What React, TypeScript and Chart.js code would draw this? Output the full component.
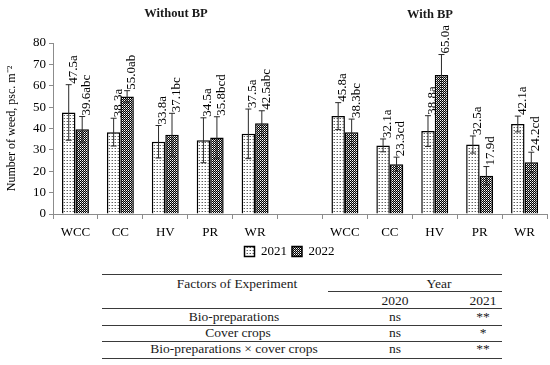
import React, { useEffect, useRef } from 'react';
import { Chart, registerables } from 'chart.js';

Chart.register(...registerables);

const categories = ['WCC', 'CC', 'HV', 'PR', 'WR', '', 'WCC', 'CC', 'HV', 'PR', 'WR'];
const values2021 = [47.5, 38.3, 33.8, 34.5, 37.5, null, 45.8, 32.1, 38.8, 32.5, 42.1];
const values2022 = [39.6, 55.0, 37.1, 35.8, 42.5, null, 38.3, 23.3, 65.0, 17.9, 24.2];
const errors2021 = [13, 6.5, 7.6, 10.5, 11.6, null, 6.3, 3, 7.2, 4, 3.7];
const errors2022 = [6, 2.7, 10, 9.7, 5.8, null, 6.1, 3.3, 9.6, 4.3, 4.7];
const letters2021 = ['a', 'a', 'a', 'a', 'a', '', 'a', 'a', 'a', 'a', 'a'];
const letters2022 = ['abc', 'ab', 'bc', 'bcd', 'abc', '', 'bc', 'cd', 'a', 'd', 'cd'];
const seriesNames = ['2021', '2022'];
const groupTitles = ['Without BP', 'With BP'];
const yMin = 0;
const yMax = 80;
const yStep = 10;
const yTitle = 'Number of weed, psc. m⁻²';

const tableHeader = 'Factors of Experiment';
const tableYearHeader = 'Year';
const tableYears = ['2020', '2021'];
const factors = ['Bio-preparations', 'Cover crops', 'Bio-preparations × cover crops'];
const sig2020 = ['ns', 'ns', 'ns'];
const sig2021 = ['**', '*', '**'];

const FONT = '"Liberation Serif", "Times New Roman", serif';

function makePattern(kind: 'light' | 'dark'): CanvasPattern | string {
  const c = document.createElement('canvas');
  const ctx = c.getContext('2d');
  if (!ctx) return kind === 'light' ? '#ddd' : '#444';
  if (kind === 'light') {
    c.width = 3; c.height = 3;
    ctx.fillStyle = '#ffffff';
    ctx.fillRect(0, 0, 3, 3);
    ctx.fillStyle = '#606060';
    ctx.fillRect(1, 1, 1, 1);
    ctx.fillStyle = '#b8b8b8';
    ctx.fillRect(0, 1, 1, 1);
  } else {
    c.width = 2; c.height = 2;
    ctx.fillStyle = '#000000';
    ctx.fillRect(0, 0, 2, 2);
    ctx.fillStyle = '#ffffff';
    ctx.fillRect(0, 0, 1, 1);
    ctx.fillStyle = '#9a9a9a';
    ctx.fillRect(1, 1, 1, 1);
  }
  return ctx.createPattern(c, 'repeat') as CanvasPattern;
}

const errorLabelPlugin = {
  id: 'errorLabelPlugin',
  afterLayout(chart: any) {
    if (chart.legend) {
      chart.legend.left += 16;
      chart.legend.right += 16;
    }
  },
  afterDatasetsDraw(chart: any) {
    const ctx = chart.ctx;
    const yScale = chart.scales.y;
    const errs = [errors2021, errors2022];
    const vals = [values2021, values2022];
    const lets = [letters2021, letters2022];
    chart.data.datasets.forEach((_ds: any, di: number) => {
      const meta = chart.getDatasetMeta(di);
      meta.data.forEach((el: any, i: number) => {
        const v = vals[di][i];
        const e = errs[di][i];
        if (v == null || e == null) return;
        const x = el.x;
        const yTop = yScale.getPixelForValue(v + e);
        const yBot = yScale.getPixelForValue(v - e);
        ctx.save();
        ctx.strokeStyle = '#2a2a2a';
        ctx.lineWidth = 1;
        ctx.beginPath();
        ctx.moveTo(x, yTop);
        ctx.lineTo(x, yBot);
        ctx.moveTo(x - 3, yTop);
        ctx.lineTo(x + 3, yTop);
        ctx.moveTo(x - 3, yBot);
        ctx.lineTo(x + 3, yBot);
        ctx.stroke();
        ctx.translate(x + 4.5, yTop - 1);
        ctx.rotate(-Math.PI / 2);
        ctx.fillStyle = '#000';
        ctx.font = `13px ${FONT}`;
        ctx.textAlign = 'left';
        ctx.textBaseline = 'middle';
        ctx.fillText(v.toFixed(1) + lets[di][i], 0, 0);
        ctx.restore();
      });
    });
  },
};

function Txt(props: { x: number; y: number; children: React.ReactNode; bold?: boolean; size?: number }) {
  return (
    <div
      style={{
        position: 'absolute',
        left: props.x,
        top: props.y,
        transform: 'translate(-50%, -50%)',
        whiteSpace: 'nowrap',
        lineHeight: 1,
        fontFamily: FONT,
        fontSize: props.size ?? 13.5,
        fontWeight: props.bold ? 'bold' : 'normal',
        color: '#1a1a1a',
      }}
    >
      {props.children}
    </div>
  );
}

function HLine(props: { x1: number; x2: number; y: number }) {
  return (
    <div
      style={{
        position: 'absolute',
        left: props.x1,
        top: props.y,
        width: props.x2 - props.x1,
        height: 1,
        background: '#3a3a3a',
      }}
    />
  );
}

export default function App() {
  const ref = useRef<HTMLCanvasElement | null>(null);

  useEffect(() => {
    if (!ref.current) return;
    const chart = new Chart(ref.current, {
      type: 'bar',
      data: {
        labels: categories,
        datasets: [
          {
            label: seriesNames[0],
            data: values2021 as any,
            backgroundColor: makePattern('light') as any,
            borderColor: '#000',
            borderWidth: 1.5,
            categoryPercentage: 0.6,
            barPercentage: 1.0,
          },
          {
            label: seriesNames[1],
            data: values2022 as any,
            backgroundColor: makePattern('dark') as any,
            borderColor: '#000',
            borderWidth: 1.5,
            categoryPercentage: 0.6,
            barPercentage: 1.0,
          },
        ],
      },
      options: {
        responsive: false,
        animation: false,
        layout: { padding: { top: 43, right: 3, left: 0, bottom: 0 } },
        plugins: {
          legend: {
            position: 'bottom',
            labels: {
              boxWidth: 10,
              boxHeight: 10,
              padding: 5,
              color: '#000',
              font: { family: FONT, size: 13 },
            },
          },
          tooltip: { enabled: false },
        },
        scales: {
          x: {
            grid: {
              drawOnChartArea: false,
              drawTicks: true,
              tickLength: 5,
              color: '#8c8c8c',
              offset: true,
            },
            border: { color: '#8c8c8c', width: 1 },
            ticks: {
              color: '#000',
              font: { family: FONT, size: 13 },
              padding: 6,
              maxRotation: 0,
              autoSkip: false,
            },
            afterFit: (s: any) => {
              s.height = 26;
            },
          },
          y: {
            min: yMin,
            max: yMax,
            ticks: {
              stepSize: yStep,
              color: '#000',
              font: { family: FONT, size: 13 },
              padding: 3,
            },
            grid: { drawOnChartArea: false, tickLength: 4, color: '#8c8c8c' },
            border: { color: '#8c8c8c', width: 1 },
            title: {
              display: true,
              text: yTitle,
              color: '#000',
              font: { family: FONT, size: 12 },
              padding: { top: 5, bottom: 0 },
            },
            afterFit: (s: any) => {
              s.width = 53;
            },
          },
        },
      },
      plugins: [errorLabelPlugin],
    });
    return () => chart.destroy();
  }, []);

  return (
    <div style={{ position: 'absolute', left: 0, top: 0, width: 550, height: 365, background: '#fff', overflow: 'hidden' }}>
      <canvas ref={ref} width={550} height={268} style={{ position: 'absolute', left: 0, top: 0, width: 550, height: 268 }} />
      <Txt x={176} y={13} bold size={12.5}>{groupTitles[0]}</Txt>
      <Txt x={430} y={14} bold size={12.5}>{groupTitles[1]}</Txt>

      <HLine x1={102} x2={502} y={274} />
      <Txt x={237} y={284}>{tableHeader}</Txt>
      <Txt x={439} y={284}>{tableYearHeader}</Txt>
      <HLine x1={328} x2={502} y={291} />
      <Txt x={395} y={301}>{tableYears[0]}</Txt>
      <Txt x={483} y={301}>{tableYears[1]}</Txt>
      <HLine x1={102} x2={502} y={308} />
      <Txt x={234} y={317}>{factors[0]}</Txt>
      <Txt x={395} y={317}>{sig2020[0]}</Txt>
      <Txt x={483} y={317}>{sig2021[0]}</Txt>
      <HLine x1={102} x2={502} y={325} />
      <Txt x={238} y={333}>{factors[1]}</Txt>
      <Txt x={395} y={333}>{sig2020[1]}</Txt>
      <Txt x={483} y={333}>{sig2021[1]}</Txt>
      <HLine x1={102} x2={502} y={341} />
      <Txt x={234} y={349}>{factors[2]}</Txt>
      <Txt x={395} y={349}>{sig2020[2]}</Txt>
      <Txt x={483} y={349}>{sig2021[2]}</Txt>
      <HLine x1={102} x2={502} y={358} />
    </div>
  );
}
